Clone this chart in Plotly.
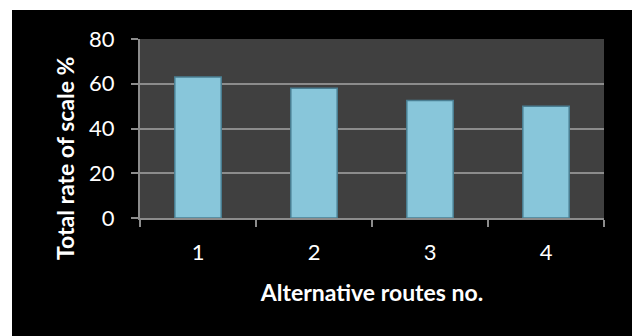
import plotly.graph_objects as go

routes = ["1", "2", "3", "4"]
rates = [63, 58, 52.5, 50]
y_ticks = [0, 20, 40, 60, 80]

W, H = 632, 336
L, R, T, B = 140, 28, 39, 118
pw, ph = W - L - R, H - T - B

fig = go.Figure()
fig.add_trace(go.Bar(
    x=routes, y=rates,
    marker=dict(color="#88c6da", line=dict(color="#4a7f93", width=1.5)),
    width=0.4,
))

# white outer border (top strip and left strip)
fig.add_shape(type="rect", xref="paper", yref="paper",
              x0=-L / pw, x1=(W - L) / pw,
              y0=1 + (T - 10) / ph, y1=1 + T / ph,
              fillcolor="white", line=dict(width=0), layer="below")
fig.add_shape(type="rect", xref="paper", yref="paper",
              x0=-L / pw, x1=(12 - L) / pw,
              y0=-(B) / ph, y1=1 + T / ph,
              fillcolor="white", line=dict(width=0), layer="below")

fig.add_annotation(text="<b>Total rate of scale %</b>", xref="paper", yref="paper",
                   x=(65 - L) / pw, y=(T + ph - 159) / ph, textangle=-90,
                   showarrow=False, font=dict(family="Lato", size=23, color="white"),
                   xanchor="center", yanchor="middle")

fig.update_layout(
    width=W, height=H,
    margin=dict(l=L, r=R, t=T, b=B),
    paper_bgcolor="black", plot_bgcolor="#404040",
    showlegend=False,
    font=dict(family="Lato", color="white"),
    xaxis=dict(
        type="category", showgrid=False, showline=True, linecolor="#8c8c8c", linewidth=2,
        ticks="outside", tickson="boundaries", ticklen=7, tickcolor="#8c8c8c", tickwidth=1.5,
        tickfont=dict(size=22, color="white"), ticklabelstandoff=14,
        title=dict(text="<b>Alternative routes no.</b>", font=dict(size=23, color="white"), standoff=20),
    ),
    yaxis=dict(
        range=[0, 80], tickvals=y_ticks, showgrid=True, gridcolor="#8c8c8c", gridwidth=2,
        showline=True, linecolor="#8c8c8c", linewidth=2, zeroline=False,
        ticks="outside", ticklen=7, tickcolor="#8c8c8c", tickwidth=1.5,
        tickfont=dict(size=22, color="white"), ticklabelstandoff=12,
    ),
)

fig.write_html("out.html")
